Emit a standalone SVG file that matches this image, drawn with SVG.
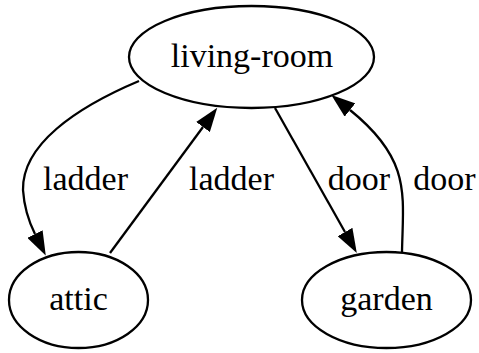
<svg xmlns="http://www.w3.org/2000/svg" width="479" height="353" viewBox="0 0 479 353">
<defs>
<style>
.node ellipse{fill:#fff;stroke:#000;stroke-width:2.3}
text{font-family:"Liberation Serif","Times New Roman",serif;font-size:34px;fill:#000;text-anchor:middle}
.edge{fill:none;stroke:#000;stroke-width:2.3}
</style>
<marker id="arr" viewBox="0 0 24 17" refX="0" refY="8.5" markerWidth="24" markerHeight="17" markerUnits="userSpaceOnUse" orient="auto">
<path d="M0,0 L24,8.5 L0,17 z" fill="#000"/>
</marker>
</defs>
<rect width="479" height="353" fill="#fff"/>
<g id="connectors">
<path class="edge" marker-end="url(#arr)" d="M139,81 C75,108 22,145 23,190 C24,205 28,220 35,234"/>
<path class="edge" marker-end="url(#arr)" d="M110,253 L203,127"/>
<path class="edge" marker-end="url(#arr)" d="M275,108 L345,232"/>
<path class="edge" marker-end="url(#arr)" d="M402,252 C403,195 412,160 350,110"/>
<text x="85.5" y="190">ladder</text>
<text x="231.5" y="190">ladder</text>
<text x="359" y="190">door</text>
<text x="444.5" y="190">door</text>
</g>
<g id="living-room" class="node">
<ellipse cx="251.5" cy="57" rx="122.5" ry="51"/>
<text x="252" y="67">living-room</text>
</g>
<g id="attic" class="node">
<ellipse cx="78.5" cy="300" rx="69.5" ry="48"/>
<text x="78.5" y="310">attic</text>
</g>
<g id="garden" class="node">
<ellipse cx="386.5" cy="300" rx="84.5" ry="48"/>
<text x="386.5" y="310">garden</text>
</g>
</svg>
